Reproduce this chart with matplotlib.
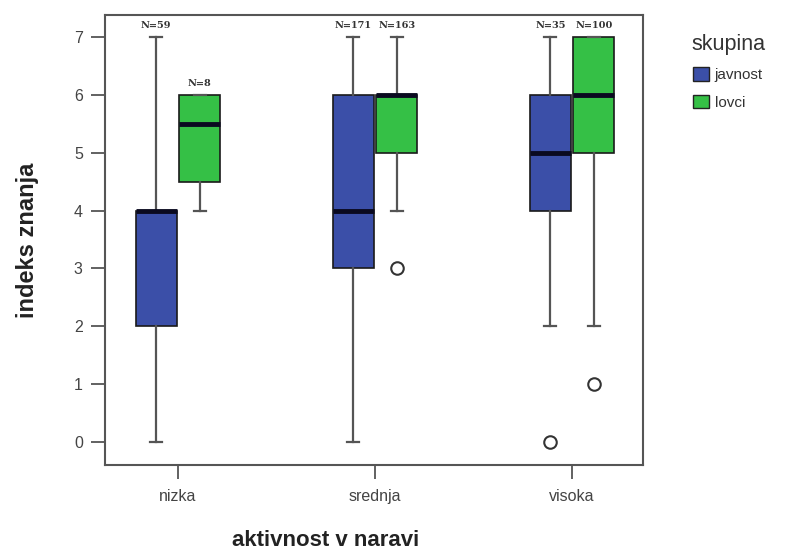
import matplotlib
matplotlib.use("Agg")
import matplotlib.pyplot as plt
from matplotlib.patches import Patch

plt.rcParams['font.family'] = ['Liberation Sans', 'DejaVu Sans']

categories = ["nizka", "srednja", "visoka"]
groups = ["javnost", "lovci"]
colors = ["#3b4fa8", "#35c046"]

# per group: [nizka, srednja, visoka]
whislo = {"javnost": [0, 0, 2], "lovci": [4, 4, 2]}
q1 = {"javnost": [2, 3, 4], "lovci": [4.5, 5, 5]}
med = {"javnost": [4, 4, 5], "lovci": [5.5, 6, 6]}
q3 = {"javnost": [4, 6, 6], "lovci": [6, 6, 7]}
whishi = {"javnost": [7, 7, 7], "lovci": [6, 7, 7]}
fliers = {"javnost": [[], [], [0]], "lovci": [[], [3], [1]]}
counts = {"javnost": [59, 171, 35], "lovci": [8, 163, 100]}

fig = plt.figure(figsize=(8.04, 5.54), dpi=100)
ax = fig.add_axes([105/804, 1-465/554, (643-105)/804, (465-15)/554])

offsets = [-0.11, 0.11]
width = 0.21
for gi, g in enumerate(groups):
    stats = []
    for ci in range(len(categories)):
        stats.append(dict(whislo=whislo[g][ci], q1=q1[g][ci], med=med[g][ci],
                          q3=q3[g][ci], whishi=whishi[g][ci], fliers=fliers[g][ci]))
    pos = [ci + offsets[gi] for ci in range(len(categories))]
    ax.bxp(stats, positions=pos, widths=width, patch_artist=True, showfliers=True,
           boxprops=dict(facecolor=colors[gi], edgecolor="#1a1a1a", linewidth=1.2),
           medianprops=dict(color="#0a0a20", linewidth=3.5),
           whiskerprops=dict(color="#555555", linewidth=1.6),
           capprops=dict(color="#555555", linewidth=1.6),
           capwidths=0.06,
           flierprops=dict(marker="o", markerfacecolor="white", markeredgecolor="#333333",
                           markersize=9, markeredgewidth=1.5),
           manage_ticks=False)
    for ci in range(len(categories)):
        top = max(whishi[g][ci], q3[g][ci])
        ax.text(ci + offsets[gi], top + 0.12, f"N={counts[g][ci]}", ha="center", va="bottom",
                fontsize=7, fontweight="bold", family=["DejaVu Serif"], color="#333333")

ax.set_xlim(-0.37, 2.36)
ax.set_ylim(-0.40, 7.38)
ax.set_xticks(range(len(categories)))
ax.set_xticklabels(categories)
ax.set_yticks(range(0, 8))
ax.tick_params(axis="both", direction="out", length=10, width=1.3, color="#555555",
               labelcolor="#444444", labelsize=11.5)
ax.tick_params(axis="y", pad=6)
ax.tick_params(axis="x", pad=7)
for s in ax.spines.values():
    s.set_color("#555555")
    s.set_linewidth(1.5)

fig.text(28/804, 1-240/554, "indeks znanja", rotation=90, ha="center", va="center",
         fontsize=17, fontweight="bold", color="#222222")
fig.text(326/804, 1-540/554, "aktivnost v naravi", ha="center", va="center",
         fontsize=16, fontweight="bold", color="#222222")

handles = [Patch(facecolor=colors[i], edgecolor="#222222", label=groups[i]) for i in range(2)]
leg = fig.legend(handles=handles, loc="upper left", bbox_to_anchor=(685/804, 1-28/554),
                 title="skupina", frameon=False, fontsize=11, title_fontsize=15.5,
                 handlelength=1.0, handleheight=1.0, handletextpad=0.4, labelspacing=0.8,
                 borderaxespad=0)
leg.get_title().set_color("#333333")
for t in leg.get_texts():
    t.set_color("#333333")

fig.savefig("out.png", dpi=100)
